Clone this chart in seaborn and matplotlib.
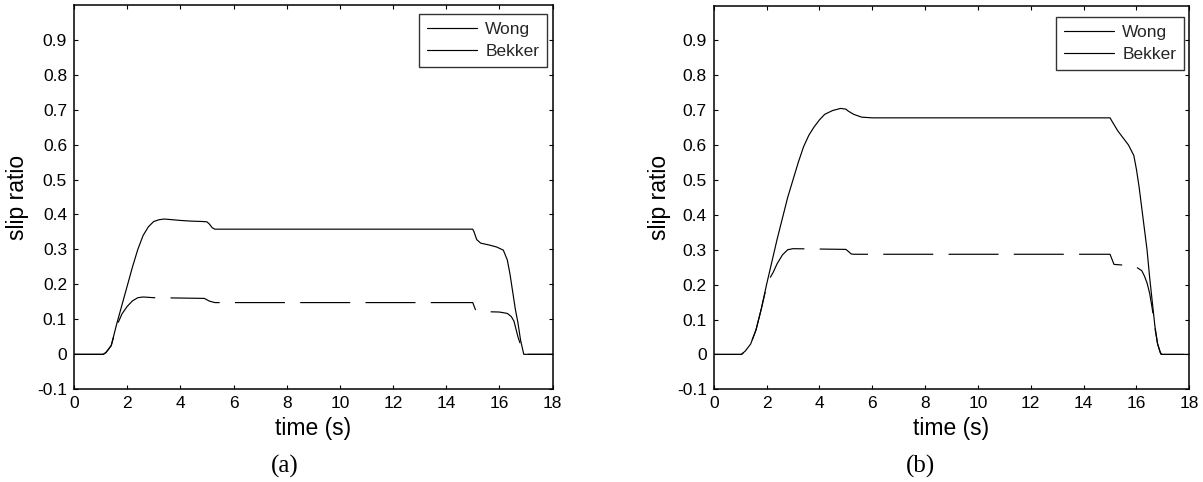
import matplotlib
matplotlib.use("Agg")
import matplotlib.pyplot as plt
from matplotlib.lines import Line2D
import seaborn as sns
import pandas as pd

# ---------------- data ----------------
# panel (a)
ta_wong = [0, 1.1, 1.2, 1.4, 1.6, 1.8, 2.0, 2.2, 2.4, 2.6, 2.8, 3.0, 3.2, 3.4, 3.7, 4.0,
           4.4, 4.8, 5.0, 5.1, 5.2, 5.3, 6, 10, 15.0, 15.05, 15.15, 15.3, 15.6, 15.9,
           16.15, 16.3, 16.4, 16.5, 16.6, 16.7, 16.8, 16.92, 17.0, 18]
sa_wong = [0, 0, 0.005, 0.025, 0.085, 0.14, 0.195, 0.25, 0.30, 0.34, 0.365, 0.38, 0.385,
           0.387, 0.385, 0.383, 0.381, 0.38, 0.379, 0.372, 0.362, 0.358, 0.358, 0.358,
           0.358, 0.35, 0.328, 0.318, 0.313, 0.307, 0.298, 0.27, 0.23, 0.18, 0.13, 0.09,
           0.04, 0, 0, 0]
ta_bekker = [0, 1.1, 1.2, 1.4, 1.6, 1.8, 2.0, 2.2, 2.4, 2.6, 3.0, 4.0, 4.9, 5.1, 5.3, 10,
             15.0, 15.1, 15.2, 15.5, 16.0, 16.3, 16.45, 16.55, 16.7, 16.9, 16.95, 18]
sa_bekker = [0, 0, 0.005, 0.025, 0.08, 0.115, 0.137, 0.153, 0.162, 0.164, 0.162, 0.161,
             0.16, 0.152, 0.148, 0.148, 0.148, 0.128, 0.123, 0.122, 0.121, 0.117, 0.108,
             0.095, 0.05, 0.005, 0, 0]

# panel (b)
tb_wong = [0, 1.05, 1.2, 1.4, 1.6, 1.8, 2.0, 2.2, 2.4, 2.6, 2.8, 3.0, 3.2, 3.4, 3.6, 3.8,
           4.0, 4.2, 4.5, 4.8, 5.0, 5.1, 5.3, 5.6, 6, 10, 15.0, 15.1, 15.3, 15.5, 15.7,
           15.9, 16.0, 16.1, 16.2, 16.3, 16.4, 16.5, 16.6, 16.7, 16.8, 16.9, 16.97, 18]
sb_wong = [0, 0, 0.01, 0.03, 0.07, 0.13, 0.2, 0.265, 0.33, 0.39, 0.45, 0.5, 0.55, 0.595,
           0.628, 0.652, 0.672, 0.688, 0.699, 0.705, 0.703, 0.697, 0.688, 0.68, 0.678, 0.678,
           0.678, 0.665, 0.64, 0.62, 0.6, 0.57, 0.53, 0.48, 0.42, 0.36, 0.3, 0.22, 0.15,
           0.08, 0.03, 0.005, 0, 0]
tb_bekker = [0, 1.05, 1.2, 1.4, 1.6, 1.8, 2.0, 2.1, 2.25, 2.4, 2.6, 2.8, 3.0, 4.0, 5.0,
             5.1, 5.2, 5.3, 10, 15.0, 15.15, 15.5, 15.8, 16.0, 16.2, 16.3, 16.4, 16.5,
             16.6, 16.7, 16.8, 16.93, 18]
sb_bekker = [0, 0, 0.01, 0.03, 0.07, 0.13, 0.195, 0.215, 0.235, 0.26, 0.285, 0.3, 0.303,
             0.302, 0.301, 0.295, 0.288, 0.287, 0.287, 0.287, 0.258, 0.256, 0.255, 0.25,
             0.24, 0.225, 0.205, 0.175, 0.13, 0.075, 0.03, 0, 0]

models = ["Wong", "Bekker"]
x_ticks = [0, 2, 4, 6, 8, 10, 12, 14, 16, 18]
y_ticks = [-0.1, 0, 0.1, 0.2, 0.3, 0.4, 0.5, 0.6, 0.7, 0.8, 0.9]
y_ticklabels = ["-0.1", "0", "0.1", "0.2", "0.3", "0.4", "0.5", "0.6", "0.7", "0.8", "0.9"]
captions = ["(a)", "(b)"]

# ---------------- style ----------------
sns.set_theme(style="white")
plt.rcParams["font.family"] = ["Liberation Sans", "DejaVu Sans"]
plt.rcParams["lines.scale_dashes"] = False

def frame(tw, sw, tb, sb):
    return pd.concat([
        pd.DataFrame({"time": tw, "slip": sw, "model": "Wong"}),
        pd.DataFrame({"time": tb, "slip": sb, "model": "Bekker"}),
    ], ignore_index=True)

panels = [frame(ta_wong, sa_wong, ta_bekker, sa_bekker),
          frame(tb_wong, sb_wong, tb_bekker, sb_bekker)]

W, H = 1203, 482
fig = plt.figure(figsize=(W / 100, H / 100), dpi=100)
axes_px = [(74, 4.7, 552.5, 389.3), (713.7, 5.5, 1189.3, 389.3)]
legend_px = [(547, 14), (1184, 17)]
ylab_x_px = [29, 671]
cap_x_px = [285, 921]
dash_offset = [0, 14]

for i, df in enumerate(panels):
    x0, y0, x1, y1 = axes_px[i]
    ax = fig.add_axes([x0 / W, 1 - y1 / H, (x1 - x0) / W, (y1 - y0) / H])
    sns.lineplot(data=df, x="time", y="slip", style="model", style_order=models,
                 dashes={"Wong": "", "Bekker": (36, 11)}, color="black",
                 linewidth=0.85, sort=False, estimator=None, legend=False, ax=ax)
    for ln in ax.get_lines():
        if ln.get_linestyle() not in ("-", "solid"):
            ln.set_linestyle((dash_offset[i], (36, 11)))
    ax.set_xlim(0, 18)
    ax.set_ylim(-0.1, 1.0)
    ax.set_xticks(x_ticks)
    ax.set_xticklabels([str(t) for t in x_ticks])
    ax.set_yticks(y_ticks)
    ax.set_yticklabels(y_ticklabels)
    ax.tick_params(direction="in", length=3, width=0.8, top=True, right=True,
                   bottom=True, left=True, labelsize=12.5, pad=5, colors="black",
                   labelcolor="black")
    for s in ax.spines.values():
        s.set_color("black")
        s.set_linewidth(1.1)
    ax.set_xlabel("time (s)", fontsize=16.5, color="black")
    ax.set_ylabel("slip ratio", fontsize=16.5, color="black")
    ax.xaxis.set_label_coords(0.5, (y1 - 417) / (y1 - y0))
    ax.yaxis.set_label_coords((ylab_x_px[i] - x0) / (x1 - x0), 0.5)

    handles = [Line2D([], [], color="black", linewidth=0.85) for _ in models]
    lx, ly = legend_px[i]
    leg = ax.legend(handles, models, loc="upper right",
                    bbox_to_anchor=((lx - x0) / (x1 - x0), 1 - (ly - y0) / (y1 - y0)),
                    borderaxespad=0, fontsize=12.5, frameon=True, fancybox=False,
                    handlelength=2.9, handletextpad=0.45, labelspacing=0.42,
                    borderpad=0.45)
    leg.get_frame().set_edgecolor("black")
    leg.get_frame().set_linewidth(1.0)

    fig.text(cap_x_px[i] / W, 1 - 466 / H, captions[i], ha="center", va="center",
             fontsize=18, family=["Liberation Serif", "DejaVu Serif"], color="black")

fig.savefig("out.png", dpi=100)
